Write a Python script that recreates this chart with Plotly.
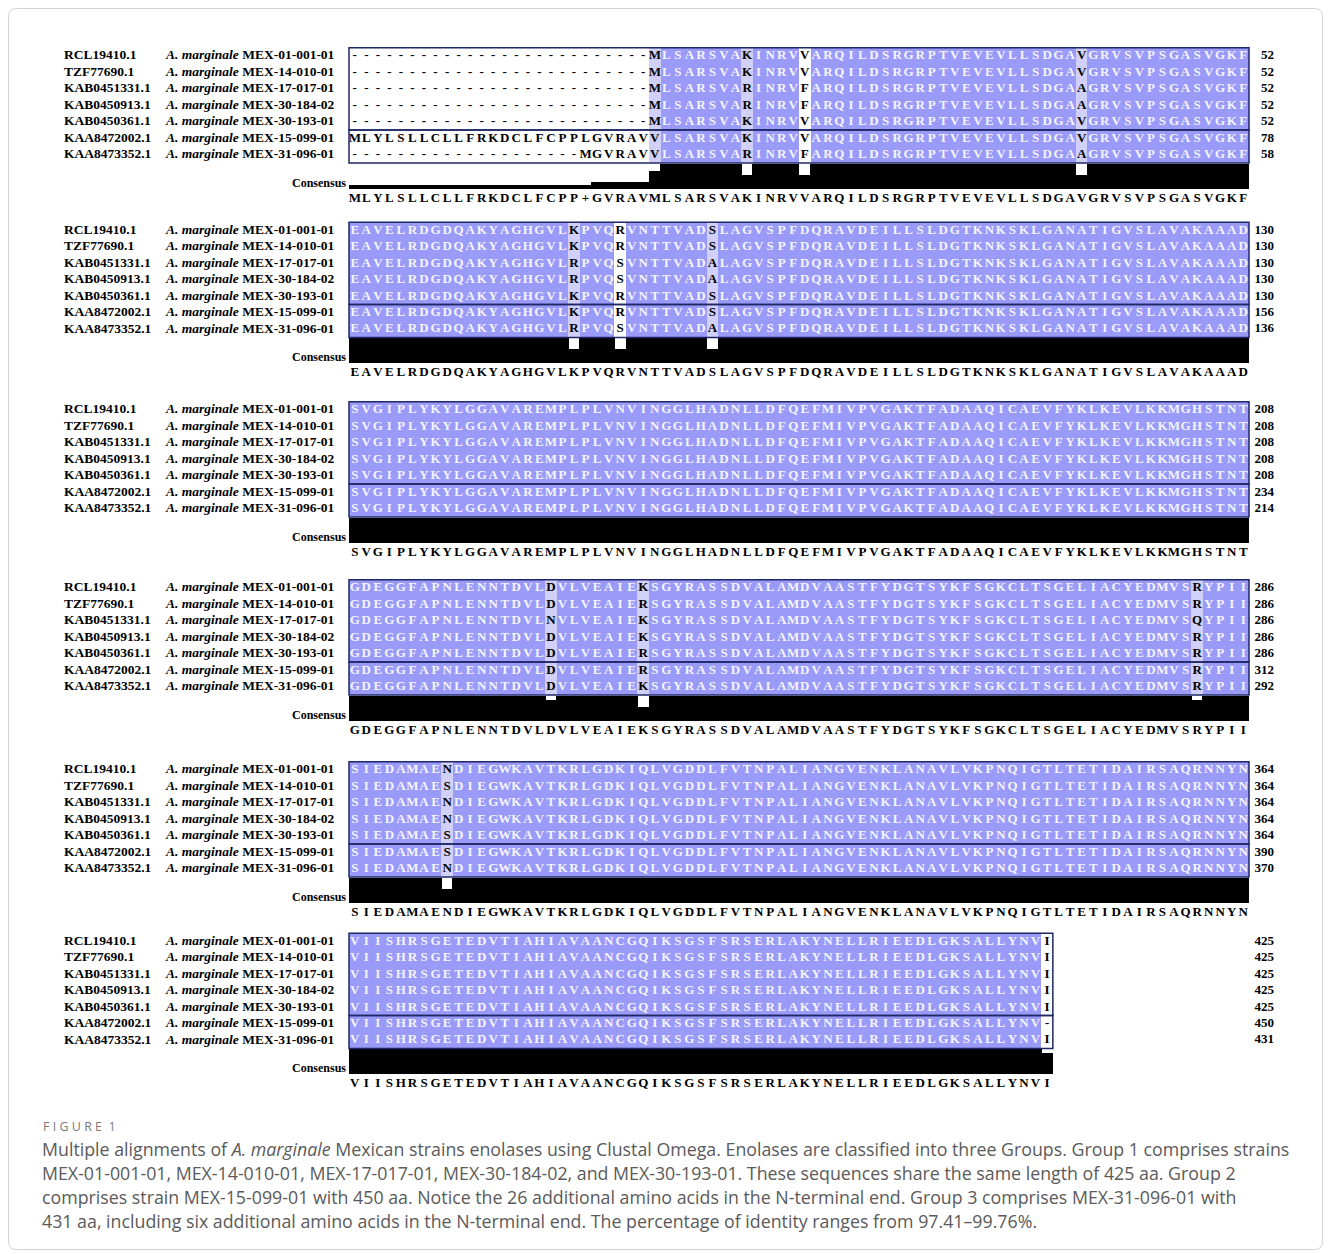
import plotly.graph_objects as go

# ---------------- data ----------------
ACCESSIONS = ["RCL19410.1", "TZF77690.1", "KAB0451331.1", "KAB0450913.1",
              "KAB0450361.1", "KAA8472002.1", "KAA8473352.1"]
STRAINS = ["MEX-01-001-01", "MEX-14-010-01", "MEX-17-017-01", "MEX-30-184-02",
           "MEX-30-193-01", "MEX-15-099-01", "MEX-31-096-01"]
SPECIES = "A. marginale"

# alignment columns 1-27 (N-terminal end)
N_TERMINAL = [
    "--------------------------M",
    "--------------------------M",
    "--------------------------M",
    "--------------------------M",
    "--------------------------M",
    "MLYLSLLCLLFRKDCLFCPPLGVRAVV",
    "--------------------MGVRAVV",
]
# shared residues (as in RCL19410.1) after column 27, block by block
CORE = [
    "LSARSVAKINRVVARQILDSRGRPTVEVEVLLSDGAVGRVSVPSGASVGKF",
    "EAVELRDGDQAKYAGHGVLKPVQRVNTTVADSLAGVSPFDQRAVDEILLSLDGTKNKSKLGANATIGVSLAVAKAAAD",
    "SVGIPLYKYLGGAVAREMPLPLVNVINGGLHADNLLDFQEFMIVPVGAKTFADAAQICAEVFYKLKEVLKKMGHSTNT",
    "GDEGGFAPNLENNTDVLDVLVEAIEKSGYRASSDVALAMDVAASTFYDGTSYKFSGKCLTSGELIACYEDMVSRYPII",
    "SIEDAMAENDIEGWKAVTKRLGDKIQLVGDDLFVTNPALIANGVENKLANAVLVKPNQIGTLTETIDAIRSAQRNNYN",
    "VIISHRSGETEDVTIAHIAVAANCGQIKSGSFSRSERLAKYNELLRIEEDLGKSALLYNVI",
]
# substitutions relative to CORE (1-based alignment column -> residue)
VARIANTS = {
    "RCL19410.1": {},
    "TZF77690.1": {260: "R", 321: "S"},
    "KAB0451331.1": {35: "R", 40: "F", 64: "A", 98: "R", 102: "S", 110: "A",
                     252: "N", 308: "Q"},
    "KAB0450913.1": {35: "R", 40: "F", 64: "A", 98: "R", 102: "S", 110: "A"},
    "KAB0450361.1": {260: "R", 321: "S"},
    "KAA8472002.1": {260: "R", 321: "S", 451: "-"},
    "KAA8473352.1": {35: "R", 40: "F", 64: "A", 98: "R", 102: "S", 110: "A"},
}
CONSENSUS = [
    "MLYLSLLCLLFRKDCLFCPP+GVRAVMLSARSVAKINRVVARQILDSRGRPTVEVEVLLSDGAVGRVSVPSGASVGKF",
    "EAVELRDGDQAKYAGHGVLKPVQRVNTTVADSLAGVSPFDQRAVDEILLSLDGTKNKSKLGANATIGVSLAVAKAAAD",
    "SVGIPLYKYLGGAVAREMPLPLVNVINGGLHADNLLDFQEFMIVPVGAKTFADAAQICAEVFYKLKEVLKKMGHSTNT",
    "GDEGGFAPNLENNTDVLDVLVEAIEKSGYRASSDVALAMDVAASTFYDGTSYKFSGKCLTSGELIACYEDMVSRYPII",
    "SIEDAMAENDIEGWKAVTKRLGDKIQLVGDDLFVTNPALIANGVENKLANAVLVKPNQIGTLTETIDAIRSAQRNNYN",
    "VIISHRSGETEDVTIAHIAVAANCGQIKSGSFSRSERLAKYNELLRIEEDLGKSALLYNVI",
]
# residue pairs with non-negative BLOSUM62 score (shaded light in mixed columns)
SIMILAR_PAIRS = [{"K", "R"}, {"M", "V"}, {"V", "A"}, {"S", "A"}, {"D", "N"},
                 {"R", "Q"}, {"N", "S"}]

CAPTION_LINES = [
    "Multiple alignments of <i>A. marginale</i> Mexican strains enolases using Clustal Omega. Enolases are classified into three Groups. Group 1 comprises strains",
    "MEX-01-001-01, MEX-14-010-01, MEX-17-017-01, MEX-30-184-02, and MEX-30-193-01. These sequences share the same length of 425 aa. Group 2",
    "comprises strain MEX-15-099-01 with 450 aa. Notice the 26 additional amino acids in the N-terminal end. Group 3 comprises MEX-31-096-01 with",
    "431 aa, including six additional amino acids in the N-terminal end. The percentage of identity ranges from 97.41\u201399.76%.",
]

# ---------------- build alignment ----------------
core_all = "".join(CORE)
ALIGN = []
for i, acc in enumerate(ACCESSIONS):
    s = list(N_TERMINAL[i] + core_all)
    for pos, res in VARIANTS[acc].items():
        s[pos - 1] = res
    ALIGN.append("".join(s))

BLOCK_LEN = 78
NSEQ = len(ALIGN)
nblocks = len(CONSENSUS)

# ---------------- layout constants ----------------
W, H = 1331, 1254
X0 = 349.0
COL_W = 900.0 / 78
ROW_H = 16.45
BLOCK_Y0 = [56, 230.5, 410, 588, 770, 941.5]
BAR_H = 25.0
DARK = "rgb(154,154,248)"
LIGHT = "rgb(208,208,248)"
BOX = "#1f2766"
SERIF = "Liberation Serif"
SEQ_SIZE = 13

fig = go.Figure()
shapes = []
counts = [0] * NSEQ

for b in range(nblocks):
    start = b * BLOCK_LEN
    ncols = len(CONSENSUS[b])
    y0 = BLOCK_Y0[b]
    xs = [X0 + (c + 0.5) * COL_W for c in range(ncols)]
    ys = [y0 + r * ROW_H for r in range(NSEQ)]

    z = [[None] * ncols for _ in range(NSEQ)]
    wx, wy, wt, kx, ky, kt = [], [], [], [], [], []
    bar_h = []
    for c in range(ncols):
        col = [ALIGN[r][start + c] for r in range(NSEQ)]
        residues = [ch for ch in col if ch != "-"]
        uniq = set(residues)
        if len(residues) == NSEQ and len(uniq) == 1:
            shade = 2
        elif len(residues) == NSEQ and len(uniq) == 2 and uniq in SIMILAR_PAIRS:
            shade = 1
        else:
            shade = None
        mx = max(residues.count(ch) for ch in uniq) if residues else 0
        bar_h.append(mx / NSEQ * BAR_H)
        for r in range(NSEQ):
            ch = col[r]
            if ch != "-":
                z[r][c] = shade
            if shade == 2:
                wx.append(xs[c]); wy.append(ys[r]); wt.append(ch)
            else:
                kx.append(xs[c]); ky.append(ys[r]); kt.append(ch)

    fig.add_trace(go.Heatmap(
        x=xs, y=ys, z=z, zmin=1, zmax=2,
        colorscale=[[0, LIGHT], [0.5, LIGHT], [0.5, DARK], [1, DARK]],
        showscale=False, hoverinfo="skip"))
    fig.add_trace(go.Scatter(
        x=wx, y=wy, text=wt, mode="text", textposition="middle center",
        textfont=dict(family=SERIF, size=SEQ_SIZE, color="#f4f4ff", weight="bold"),
        hoverinfo="skip", showlegend=False))
    fig.add_trace(go.Scatter(
        x=kx, y=ky, text=kt, mode="text", textposition="middle center",
        textfont=dict(family=SERIF, size=SEQ_SIZE, color="black", weight="bold"),
        hoverinfo="skip", showlegend=False))

    # group boxes
    top = y0 - ROW_H / 2
    g1b = y0 + 4.5 * ROW_H
    g2b = y0 + 6.5 * ROW_H
    right = X0 + ncols * COL_W
    shapes.append(dict(type="rect", x0=X0, x1=right, y0=top, y1=g1b,
                       line=dict(color=BOX, width=1.5), layer="above"))
    shapes.append(dict(type="rect", x0=X0, x1=right, y0=g1b, y1=g2b,
                       line=dict(color=BOX, width=1.5), layer="above"))

    # consensus bars
    bar_bottom = g2b + 1 + BAR_H
    fig.add_trace(go.Bar(
        x=xs, y=[-h for h in bar_h], base=bar_bottom, width=COL_W + 0.8,
        marker=dict(color="black", line=dict(width=0)),
        hoverinfo="skip", showlegend=False))

    # consensus text
    fig.add_trace(go.Scatter(
        x=xs, y=[bar_bottom + 9.5] * ncols, text=list(CONSENSUS[b]), mode="text",
        textposition="middle center",
        textfont=dict(family=SERIF, size=SEQ_SIZE, color="black", weight="bold"),
        hoverinfo="skip", showlegend=False))
    fig.add_trace(go.Scatter(
        x=[346], y=[bar_bottom - 5], text=["Consensus"], mode="text",
        textposition="middle left",
        textfont=dict(family=SERIF, size=12, color="black", weight="bold"),
        hoverinfo="skip", showlegend=False))

    # labels
    ends = []
    for r in range(NSEQ):
        counts[r] += sum(1 for ch in ALIGN[r][start:start + ncols] if ch != "-")
        ends.append(str(counts[r]))
    fig.add_trace(go.Scatter(
        x=[64] * NSEQ, y=ys, text=ACCESSIONS, mode="text", textposition="middle right",
        textfont=dict(family=SERIF, size=13.5, color="black", weight="bold"),
        hoverinfo="skip", showlegend=False))
    fig.add_trace(go.Scatter(
        x=[166] * NSEQ, y=ys, text=[f"<i>{SPECIES}</i> {s}" for s in STRAINS],
        mode="text", textposition="middle right",
        textfont=dict(family=SERIF, size=13.5, color="black", weight="bold"),
        hoverinfo="skip", showlegend=False))
    fig.add_trace(go.Scatter(
        x=[1274] * NSEQ, y=ys, text=ends, mode="text", textposition="middle left",
        textfont=dict(family=SERIF, size=13, color="black", weight="bold"),
        hoverinfo="skip", showlegend=False))

# outer rounded border
r = 8
x1, y1, x2, y2 = 8.5, 8.5, 1322.5, 1249.5
shapes.append(dict(
    type="path",
    path=(f"M {x1+r},{y1} L {x2-r},{y1} Q {x2},{y1} {x2},{y1+r} L {x2},{y2-r} "
          f"Q {x2},{y2} {x2-r},{y2} L {x1+r},{y2} Q {x1},{y2} {x1},{y2-r} "
          f"L {x1},{y1+r} Q {x1},{y1} {x1+r},{y1} Z"),
    line=dict(color="#d4d4d4", width=1), layer="below"))

annotations = [dict(x=41, y=1126, xref="x", yref="y", text="F I G U R E  1",
                    showarrow=False, xanchor="left", yanchor="middle",
                    font=dict(family="Open Sans", size=12.5, color="#7a7a7a"))]
for i, line in enumerate(CAPTION_LINES):
    annotations.append(dict(x=40, y=1149 + 24 * i, xref="x", yref="y", text=line,
                            showarrow=False, xanchor="left", yanchor="middle",
                            font=dict(family="Open Sans", size=17.8, color="#5a5a5a")))

fig.update_layout(
    width=W, height=H, margin=dict(l=0, r=0, t=0, b=0),
    paper_bgcolor="white", plot_bgcolor="white",
    xaxis=dict(range=[0, W], visible=False, fixedrange=True),
    yaxis=dict(range=[H, 0], visible=False, fixedrange=True),
    barmode="overlay", bargap=0, showlegend=False,
    shapes=shapes, annotations=annotations,
)
fig.write_html(
    "out.html",
    config={"displayModeBar": False},
    post_script="document.body.style.margin='0';document.body.style.padding='0';",
)
